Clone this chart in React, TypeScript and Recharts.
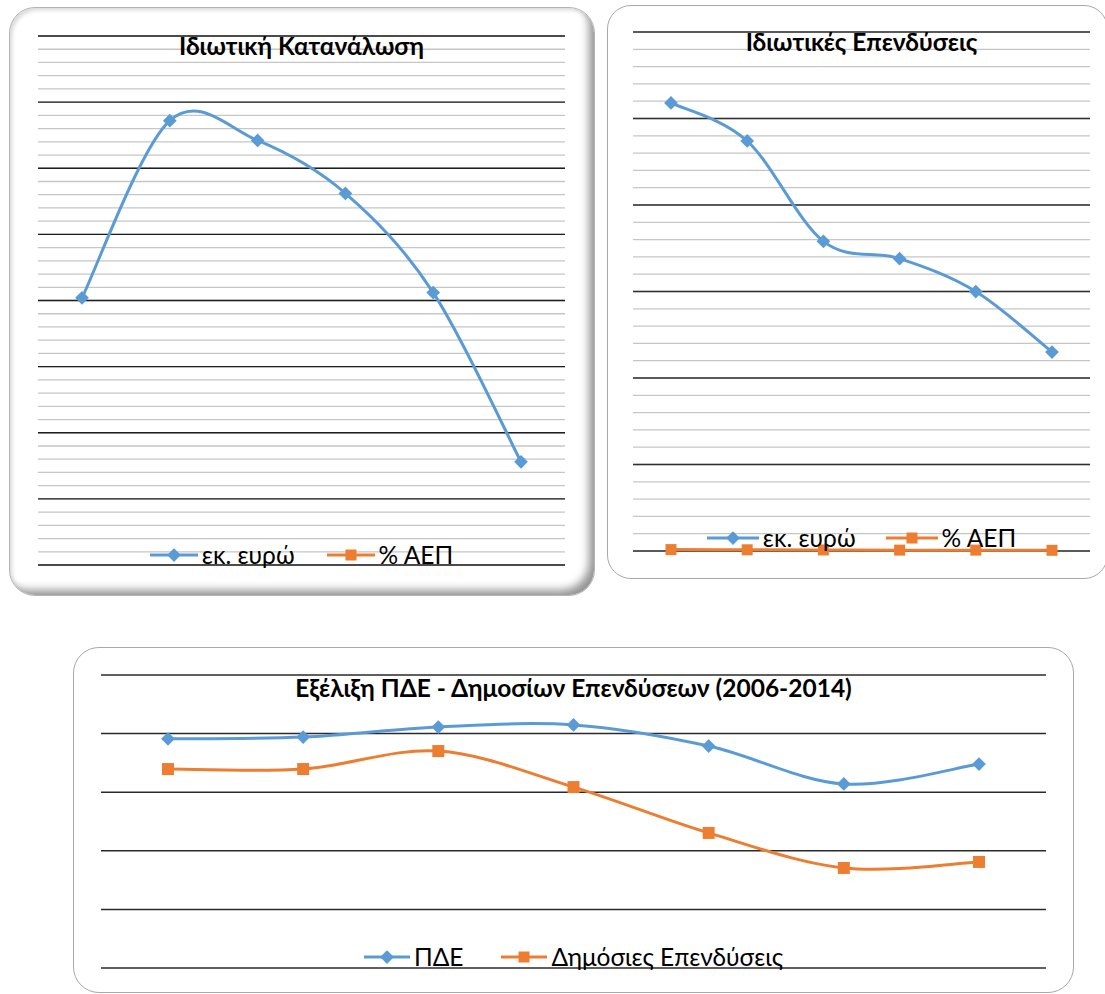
import React from "react";
import { LineChart, Line, XAxis, YAxis, CartesianGrid, Legend } from "recharts";

// ---- data (no axis labels are shown, so the scales are estimates) ----
const years6 = ["2008", "2009", "2010", "2011", "2012", "2013"];
const consumptionEur = [140.2, 153.6, 152.1, 148.1, 140.6, 127.8];
// % ΑΕΠ of consumption lies outside the plotted range, nothing is drawn for it
const consumptionGdp: (number | null)[] = [null, null, null, null, null, null];
const consumptionDomain = [120, 160];
const consumptionMajorTicks = [120, 125, 130, 135, 140, 145, 150, 155, 160];
const consumptionMinorTicks = [
  120, 121, 122, 123, 124, 125, 126, 127, 128, 129, 130, 131, 132, 133, 134, 135, 136, 137, 138, 139, 140,
  141, 142, 143, 144, 145, 146, 147, 148, 149, 150, 151, 152, 153, 154, 155, 156, 157, 158, 159, 160,
];

const investmentEur = [25.9, 23.7, 17.9, 16.9, 15.0, 11.5];
const investmentGdp = [0.08, 0.07, 0.06, 0.05, 0.05, 0.04];
const investmentDomain = [0, 30];
const investmentMajorTicks = [0, 5, 10, 15, 20, 25, 30];
const investmentMinorTicks = [
  0, 1, 2, 3, 4, 5, 6, 7, 8, 9, 10, 11, 12, 13, 14, 15, 16, 17, 18, 19, 20, 21, 22, 23, 24, 25, 26, 27, 28, 29, 30,
];

const years7 = ["2008", "2009", "2010", "2011", "2012", "2013", "2014"];
const pdeValues = [7820, 7880, 8225, 8295, 7575, 6280, 6960];
const publicInvValues = [6790, 6790, 7405, 6175, 4610, 3415, 3620];
const pdeTicks = [0, 2000, 4000, 6000, 8000, 10000];

const BLUE = "#5B9BD5";
const ORANGE = "#ED7D31";
const FONT = 'Lato, "Open Sans", "Noto Sans", sans-serif';

const consumptionData = years6.map((year, i) => ({ year, eur: consumptionEur[i], gdp: consumptionGdp[i] }));
const investmentData = years6.map((year, i) => ({ year, eur: investmentEur[i], gdp: investmentGdp[i] }));
const pdeData = years7.map((year, i) => ({ year, pde: pdeValues[i], pub: publicInvValues[i] }));

// Excel style smoothing (Catmull-Rom, control points at 1/6)
function excelSmooth(context: any) {
  let pts: number[][] = [];
  return {
    areaStart() {},
    areaEnd() {},
    lineStart() {
      pts = [];
    },
    point(x: number, y: number) {
      pts.push([+x, +y]);
    },
    lineEnd() {
      const n = pts.length;
      if (!n) return;
      context.moveTo(pts[0][0], pts[0][1]);
      for (let i = 0; i < n - 1; i++) {
        const p0 = pts[i - 1] || pts[i];
        const p1 = pts[i];
        const p2 = pts[i + 1];
        const p3 = pts[i + 2] || p2;
        context.bezierCurveTo(
          p1[0] + (p2[0] - p0[0]) / 6,
          p1[1] + (p2[1] - p0[1]) / 6,
          p2[0] - (p3[0] - p1[0]) / 6,
          p2[1] - (p3[1] - p1[1]) / 6,
          p2[0],
          p2[1]
        );
      }
    },
  };
}

// minor gridlines, placed with the axis scale when it is available
const minorGrid = (ticks: number[], domain: number[]) => (props: any) => {
  const yAxis = props && props.yAxis;
  if (yAxis && typeof yAxis.scale === "function") return ticks.map((t) => yAxis.scale(t));
  const offset = props && props.offset;
  if (!offset) return [];
  return ticks.map((t) => offset.top + (offset.height * (domain[1] - t)) / (domain[1] - domain[0]));
};

function Marker({ shape, cx, cy, color, r }: { shape: string; cx: number; cy: number; color: string; r: number }) {
  if (shape === "square") {
    return <rect x={cx - r} y={cy - r} width={r * 2} height={r * 2} fill={color} />;
  }
  const d = r * 1.25;
  return <path d={`M${cx},${cy - d}L${cx + d},${cy}L${cx},${cy + d}L${cx - d},${cy}Z`} fill={color} />;
}

const dotOf = (shape: string, color: string, r: number) => (props: any) => {
  const { cx, cy, index, value } = props;
  if (cx == null || cy == null || value == null) return <g key={index} />;
  return (
    <g key={index}>
      <Marker shape={shape} cx={cx} cy={cy} color={color} r={r} />
    </g>
  );
};

const legendOf = (fontSize: number, gap: number, lineLen: number) => (props: any) => {
  const payload = [...(props.payload || [])].sort(
    (a: any, b: any) => (a.type === "diamond" ? 0 : 1) - (b.type === "diamond" ? 0 : 1)
  );
  return (
    <div style={{ display: "flex", justifyContent: "center", alignItems: "center", gap, fontFamily: FONT, fontSize, color: "#000", lineHeight: 1 }}>
      {payload.map((entry: any) => (
        <div key={entry.value} style={{ display: "flex", alignItems: "center" }}>
          <svg width={lineLen} height={16} style={{ display: "block" }}>
            <line x1={0} x2={lineLen} y1={8} y2={8} stroke={entry.color} strokeWidth={3} />
            <Marker shape={entry.type} cx={lineLen / 2} cy={8} color={entry.color} r={5.5} />
          </svg>
          <span style={{ marginLeft: 4 }}>{entry.value}</span>
        </div>
      ))}
    </div>
  );
};

const frameBase: React.CSSProperties = { position: "absolute", boxSizing: "border-box", background: "#fff" };

function Title({ text, left, top, width, size }: { text: string; left: number; top: number; width: number; size: number }) {
  return (
    <div style={{ position: "absolute", left, top, width, textAlign: "center", fontFamily: FONT, fontWeight: 700, fontSize: size, lineHeight: 1, color: "#000", pointerEvents: "none" }}>
      {text}
    </div>
  );
}

function ConsumptionChart() {
  const margin = { top: 29, right: 30, bottom: 31, left: 29 };
  return (
    <>
      <div
        style={{
          ...frameBase,
          left: 9,
          top: 7,
          width: 586,
          height: 589,
          borderRadius: 26,
          border: "1px solid #b4b4b4",
          boxShadow: "inset -8px -8px 8px -3px rgba(0,0,0,0.42), inset 3px 3px 4px -1px rgba(0,0,0,0.16)",
        }}
      />
      <div style={{ position: "absolute", left: 9, top: 7 }}>
        <LineChart width={586} height={589} data={consumptionData} margin={margin}>
          <XAxis dataKey="year" hide padding={{ left: 44, right: 44 }} />
          <YAxis hide domain={consumptionDomain} ticks={consumptionMajorTicks} interval={0} />
          <CartesianGrid vertical={false} stroke="#c6c6c6" strokeWidth={1.3} horizontalCoordinatesGenerator={minorGrid(consumptionMinorTicks, consumptionDomain)} />
          <CartesianGrid vertical={false} stroke="#1e1e1e" strokeWidth={1.4} />
          <Legend
            verticalAlign="middle"
            wrapperStyle={{ top: 536, left: margin.left, width: 586 - margin.left - margin.right }}
            content={legendOf(24.5, 32, 48)}
          />
          <Line dataKey="eur" name="εκ. ευρώ" type={excelSmooth as any} stroke={BLUE} strokeWidth={3} legendType="diamond" dot={dotOf("diamond", BLUE, 5.5)} activeDot={false} isAnimationActive={false} />
          <Line dataKey="gdp" name="% ΑΕΠ" type={excelSmooth as any} stroke={ORANGE} strokeWidth={3} legendType="square" dot={dotOf("square", ORANGE, 5.5)} activeDot={false} isAnimationActive={false} />
        </LineChart>
      </div>
      <Title text="Ιδιωτική Κατανάλωση" left={38} top={34} width={527} size={24.5} />
    </>
  );
}

function InvestmentChart() {
  const margin = { top: 27, right: 18, bottom: 28, left: 26 };
  return (
    <>
      <div style={{ ...frameBase, left: 607, top: 5, width: 501, height: 574, borderRadius: 24, border: "1.5px solid #a8a8a8" }} />
      <div style={{ position: "absolute", left: 607, top: 5 }}>
        <LineChart width={501} height={574} data={investmentData} margin={margin}>
          <XAxis dataKey="year" hide padding={{ left: 38, right: 38 }} />
          <YAxis hide domain={investmentDomain} ticks={investmentMajorTicks} interval={0} />
          <CartesianGrid vertical={false} stroke="#c6c6c6" strokeWidth={1.3} horizontalCoordinatesGenerator={minorGrid(investmentMinorTicks, investmentDomain)} />
          <CartesianGrid vertical={false} stroke="#303030" strokeWidth={1.4} />
          <Legend
            verticalAlign="middle"
            wrapperStyle={{ top: 521, left: margin.left, width: 501 - margin.left - margin.right }}
            content={legendOf(24.5, 30, 52)}
          />
          <Line dataKey="eur" name="εκ. ευρώ" type={excelSmooth as any} stroke={BLUE} strokeWidth={3} legendType="diamond" dot={dotOf("diamond", BLUE, 5.5)} activeDot={false} isAnimationActive={false} />
          <Line dataKey="gdp" name="% ΑΕΠ" type={excelSmooth as any} stroke={ORANGE} strokeWidth={3} legendType="square" dot={dotOf("square", ORANGE, 5.5)} activeDot={false} isAnimationActive={false} />
        </LineChart>
      </div>
      <Title text="Ιδιωτικές Επενδύσεις" left={633} top={30} width={457} size={24.5} />
    </>
  );
}

function PdeChart() {
  const margin = { top: 28, right: 28, bottom: 25, left: 28 };
  return (
    <>
      <div style={{ ...frameBase, left: 73, top: 647, width: 1001, height: 346, borderRadius: 26, border: "1.5px solid #a8a8a8" }} />
      <div style={{ position: "absolute", left: 73, top: 647 }}>
        <LineChart width={1001} height={346} data={pdeData} margin={margin}>
          <XAxis dataKey="year" hide padding={{ left: 67, right: 67 }} />
          <YAxis hide domain={[0, 10000]} ticks={pdeTicks} interval={0} />
          <CartesianGrid vertical={false} stroke="#2a2a2a" strokeWidth={1.5} />
          <Legend
            verticalAlign="middle"
            wrapperStyle={{ top: 298, left: margin.left, width: 1001 - margin.left - margin.right }}
            content={legendOf(24.5, 38, 46)}
          />
          <Line dataKey="pde" name="ΠΔΕ" type={excelSmooth as any} stroke={BLUE} strokeWidth={3} legendType="diamond" dot={dotOf("diamond", BLUE, 5.5)} activeDot={false} isAnimationActive={false} />
          <Line dataKey="pub" name="Δημόσιες Επενδύσεις" type={excelSmooth as any} stroke={ORANGE} strokeWidth={3} legendType="square" dot={dotOf("square", ORANGE, 6)} activeDot={false} isAnimationActive={false} />
        </LineChart>
      </div>
      <Title text="Εξέλιξη ΠΔΕ - Δημοσίων Επενδύσεων (2006-2014)" left={101} top={676} width={945} size={24.5} />
    </>
  );
}

export default function App() {
  return (
    <div style={{ position: "absolute", left: 0, top: 0, width: 1105, height: 994, overflow: "hidden", background: "#fff" }}>
      <ConsumptionChart />
      <InvestmentChart />
      <PdeChart />
    </div>
  );
}
